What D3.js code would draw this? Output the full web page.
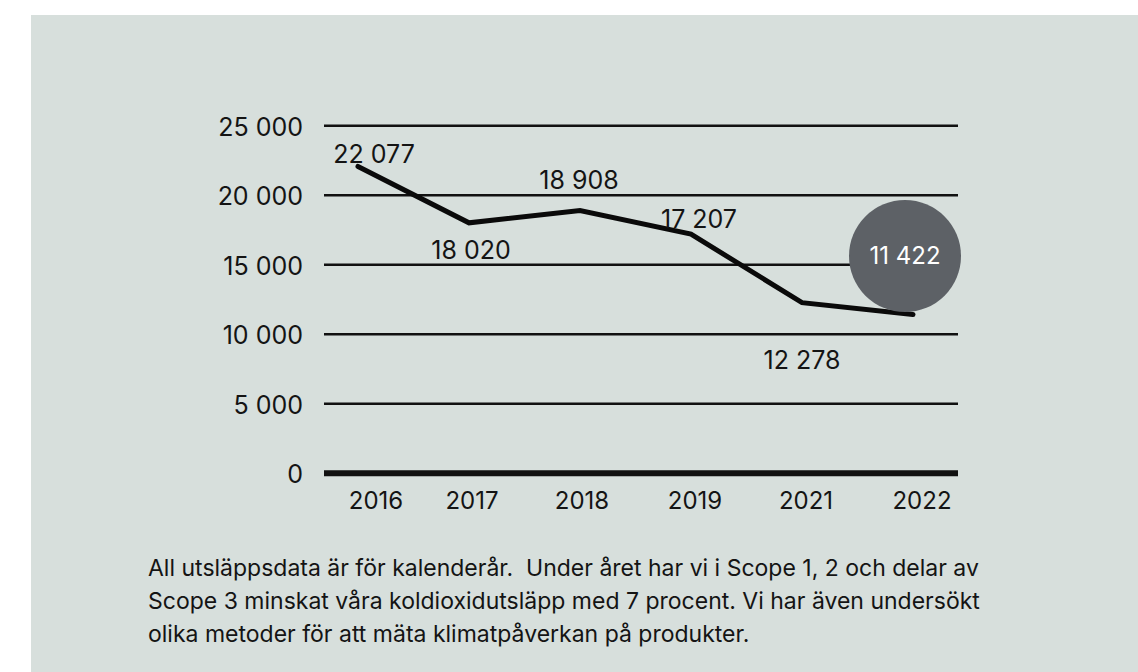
<!DOCTYPE html>
<html>
<head>
<meta charset="utf-8">
<script src="https://cdn.jsdelivr.net/npm/d3@7"></script>
<style>
  html, body { margin: 0; padding: 0; background: #ffffff; }
  svg { display: block; }
  text { font-family: Inter, "Liberation Sans", Arial, sans-serif; fill: #141414; }
</style>
</head>
<body>
<svg id="chart" width="1138" height="672"></svg>
<script>
// Carbon emissions per calendar year (tonnes CO2e)
const years = ["2016", "2017", "2018", "2019", "2021", "2022"];
const emissions = [22077, 18020, 18908, 17207, 12278, 11422];
const yTicks = [0, 5000, 10000, 15000, 20000, 25000];
const captionLines = [
  "All utsläppsdata är för kalenderår.  Under året har vi i Scope 1, 2 och delar av",
  "Scope 3 minskat våra koldioxidutsläpp med 7 procent. Vi har även undersökt",
  "olika metoder för att mäta klimatpåverkan på produkter."
];

const svg = d3.select("#chart");
const W = 1138, H = 672;

// Panel background
svg.append("rect")
  .attr("x", 31).attr("y", 15)
  .attr("width", W - 31).attr("height", H - 15)
  .attr("fill", "#d7dfdc");

const gridLeft = 324, gridRight = 958;

const y = d3.scaleLinear().domain([0, 25000]).range([473.3, 125.8]);
const x = d3.scalePoint().domain(years).range([358, 913]);

// Space as thousands separator
const fmt = v => d3.format(",")(v).replace(/,/g, " ");

// Horizontal gridlines, with a heavier baseline at zero
svg.append("g").selectAll("line")
  .data(yTicks)
  .join("line")
  .attr("x1", gridLeft).attr("x2", gridRight)
  .attr("y1", d => y(d)).attr("y2", d => y(d))
  .attr("stroke", "#111")
  .attr("stroke-width", d => d === 0 ? 6 : 2.5);

// Y tick labels
svg.append("g").selectAll("text")
  .data(yTicks)
  .join("text")
  .attr("x", 303)
  .attr("y", d => y(d) + 10)
  .attr("text-anchor", "end")
  .attr("font-size", 25)
  .text(d => fmt(d));

// Year labels under the baseline (small per-label nudges)
const yearNudge = [18, 3, 2, 4, 4, 9];
svg.append("g").selectAll("text")
  .data(years)
  .join("text")
  .attr("x", (d, i) => x(d) + yearNudge[i])
  .attr("y", 509)
  .attr("text-anchor", "middle")
  .attr("font-size", 24)
  .text(d => d);

// Emission line
const line = d3.line()
  .x((d, i) => x(years[i]))
  .y(d => y(d));

svg.append("path")
  .datum(emissions)
  .attr("d", line)
  .attr("fill", "none")
  .attr("stroke", "#0a0a0a")
  .attr("stroke-width", 5)
  .attr("stroke-linecap", "round")
  .attr("stroke-linejoin", "miter");

// Value labels: offsets from each point (dx, dy to baseline)
const labelOffset = [[16, -3], [2, 36.5], [-1, -21.5], [8, -6], [0, 66]];
const last = emissions.length - 1;

svg.append("g").selectAll("text")
  .data(emissions.slice(0, last))
  .join("text")
  .attr("x", (d, i) => x(years[i]) + labelOffset[i][0])
  .attr("y", (d, i) => y(d) + labelOffset[i][1])
  .attr("text-anchor", "middle")
  .attr("font-size", 25)
  .text(d => fmt(d));

// Latest year highlighted in a dark disc
const bubble = svg.append("g")
  .attr("transform", `translate(${x(years[last]) - 8},${y(emissions[last]) - 58.5})`);
bubble.append("circle")
  .attr("r", 56)
  .attr("fill", "#5d6166");
bubble.append("text")
  .attr("y", 7.5)
  .attr("text-anchor", "middle")
  .attr("font-size", 24)
  .style("fill", "#ffffff")
  .text(fmt(emissions[last]));

// Caption
svg.append("g").selectAll("text")
  .data(captionLines)
  .join("text")
  .attr("x", 148)
  .attr("y", (d, i) => 576 + i * 33)
  .attr("font-size", 23)
  .style("white-space", "pre")
  .text(d => d);
</script>
</body>
</html>
